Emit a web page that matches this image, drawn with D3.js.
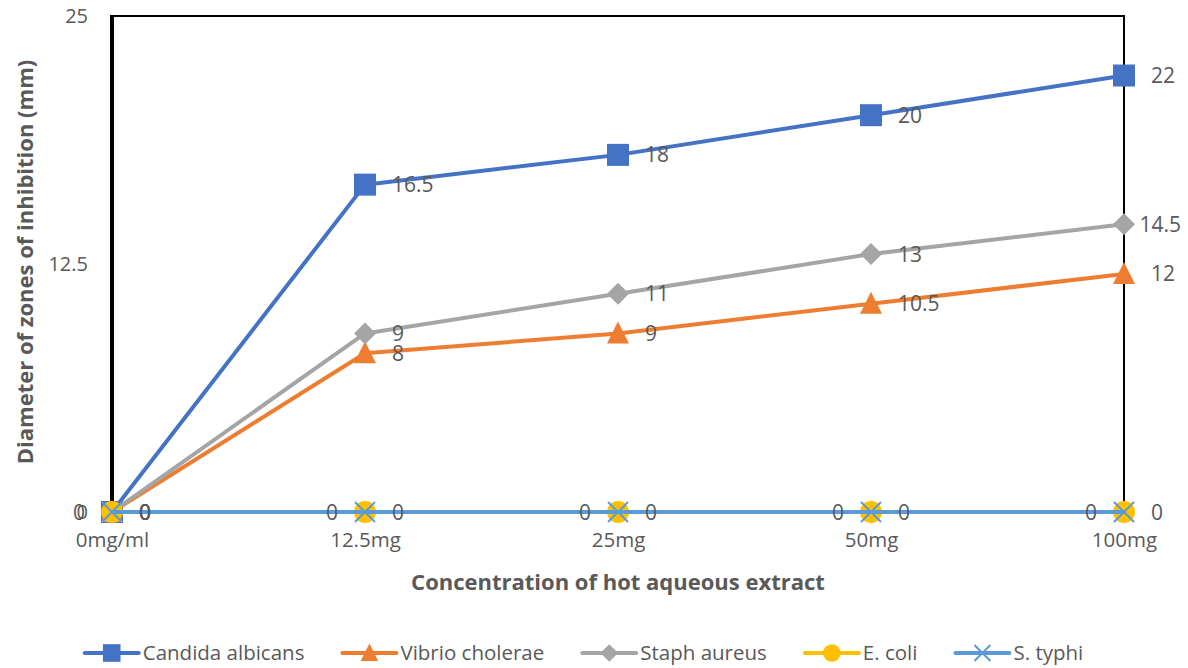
<!DOCTYPE html>
<html>
<head>
<meta charset="utf-8">
<script src="https://cdn.jsdelivr.net/npm/d3@7"></script>
<style>
  html, body { margin: 0; padding: 0; background: #fff; }
  svg { display: block; font-family: "Open Sans", "Noto Sans", sans-serif; }
</style>
</head>
<body>
<svg id="chart" width="1188" height="668"></svg>
<script>
// Concentrations tested
const categories = ["0mg/ml", "12.5mg", "25mg", "50mg", "100mg"];

// Inhibition zone diameters (mm) per organism
const candida = [0, 16.5, 18, 20, 22];
const vibrio  = [0, 8, 9, 10.5, 12];
const staph   = [0, 9, 11, 13, 14.5];
const ecoli   = [0, 0, 0, 0, 0];
const styphi  = [0, 0, 0, 0, 0];

const yTicks = [0, 12.5, 25];

const series = [
  { name: "Candida albicans", values: candida, color: "#4472C4", marker: "square",   labelSide: "right" },
  { name: "Vibrio cholerae",  values: vibrio,  color: "#ED7D31", marker: "triangle", labelSide: "right" },
  { name: "Staph aureus",     values: staph,   color: "#A5A5A5", marker: "diamond",  labelSide: "right" },
  { name: "E. coli",          values: ecoli,   color: "#FFC000", marker: "circle",   labelSide: "left"  },
  { name: "S. typhi",         values: styphi,  color: "#5B9BD5", marker: "cross",    labelSide: "right" }
];

const W = 1188;
const svg = d3.select("#chart");
const plot = { left: 112, right: 1124, top: 16, bottom: 512 };
const textColor = "#595959";

const x = d3.scalePoint().domain(categories).range([plot.left, plot.right]).padding(0);
const y = d3.scaleLinear().domain([0, 25]).range([plot.bottom, plot.top]);

// Y axis labels
const yAxis = d3.axisLeft(y).tickValues(yTicks).tickSize(0).tickPadding(24)
  .tickFormat(d => String(d));
svg.append("g").attr("transform", `translate(${plot.left},0)`).call(yAxis)
  .call(g => g.select(".domain").remove())
  .selectAll("text").attr("fill", textColor).style("font-size", "20px")
  .style("font-family", "'Open Sans', sans-serif");

// X axis labels
const xAxis = d3.axisBottom(x).tickSize(0).tickPadding(20);
svg.append("g").attr("transform", `translate(0,${plot.bottom})`).call(xAxis)
  .call(g => g.select(".domain").attr("stroke", "#d9d9d9"))
  .selectAll("text").attr("fill", textColor).style("font-size", "20.5px")
  .style("font-family", "'Open Sans', sans-serif");

// Plot frame: thin top and right, heavy left
svg.append("path")
  .attr("d", `M${plot.left},${plot.top}H${plot.right}V${plot.bottom}`)
  .attr("fill", "none").attr("stroke", "#000").attr("stroke-width", 2);
svg.append("line")
  .attr("x1", plot.left).attr("x2", plot.left)
  .attr("y1", plot.top - 1).attr("y2", plot.bottom)
  .attr("stroke", "#000").attr("stroke-width", 4);

// Marker shapes
function drawMarker(g, type, color, cx, cy, scale = 1) {
  const s = scale;
  if (type === "square") {
    g.append("rect").attr("x", cx - 11 * s).attr("y", cy - 11 * s)
      .attr("width", 22 * s).attr("height", 22 * s).attr("fill", color);
  } else if (type === "triangle") {
    g.append("path")
      .attr("d", `M${cx},${cy - 12 * s}L${cx + 11 * s},${cy + 10 * s}L${cx - 11 * s},${cy + 10 * s}Z`)
      .attr("fill", color);
  } else if (type === "diamond") {
    g.append("path")
      .attr("d", `M${cx},${cy - 11 * s}L${cx + 11 * s},${cy}L${cx},${cy + 11 * s}L${cx - 11 * s},${cy}Z`)
      .attr("fill", color);
  } else if (type === "circle") {
    g.append("circle").attr("cx", cx).attr("cy", cy).attr("r", 11 * s).attr("fill", color);
  } else if (type === "cross") {
    const r = 10 * s;
    g.append("path")
      .attr("d", `M${cx - r},${cy - r}L${cx + r},${cy + r}M${cx - r},${cy + r}L${cx + r},${cy - r}`)
      .attr("stroke", color).attr("stroke-width", 2).attr("fill", "none");
  }
}

const line = d3.line().x((d, i) => x(categories[i])).y(d => y(d));

// Series lines and markers
series.forEach(s => {
  const g = svg.append("g");
  g.append("path").datum(s.values).attr("d", line)
    .attr("fill", "none").attr("stroke", s.color).attr("stroke-width", 4)
    .attr("stroke-linejoin", "round").attr("stroke-linecap", "round");
  s.values.forEach((v, i) => drawMarker(g, s.marker, s.color, x(categories[i]), y(v)));
});

// Value labels, pulled back inside the canvas when they would overflow it
series.forEach(s => {
  const g = svg.append("g");
  s.values.forEach((v, i) => {
    const right = s.labelSide === "right";
    const t = g.append("text")
      .attr("x", x(categories[i]) + (right ? 27 : -27))
      .attr("y", y(v))
      .attr("dy", "0.36em")
      .attr("text-anchor", right ? "start" : "end")
      .attr("fill", textColor)
      .style("font-size", "21px")
      .text(String(v));
    if (right) {
      const w = t.node().getComputedTextLength();
      const x0 = +t.attr("x");
      if (x0 + w > W - 7) t.attr("x", W - 7 - w);
    }
  });
});

// Axis titles
svg.append("text")
  .attr("x", 618).attr("y", 582)
  .attr("dy", "0.35em").attr("text-anchor", "middle")
  .attr("fill", textColor).style("font-size", "22px").style("font-weight", "bold")
  .text("Concentration of hot aqueous extract");

svg.append("text")
  .attr("transform", `translate(25,${(plot.top + plot.bottom) / 2 - 2}) rotate(-90)`)
  .attr("dy", "0.35em").attr("text-anchor", "middle")
  .attr("fill", textColor).style("font-size", "22px").style("font-weight", "bold")
  .text("Diameter of zones of inhibition (mm)");

// Legend
const legendY = 653;
const legend = svg.append("g");
const items = [];
series.forEach(s => {
  const it = legend.append("g");
  it.append("line").attr("x1", 2).attr("x2", 56).attr("y1", 0).attr("y2", 0)
    .attr("stroke", s.color).attr("stroke-width", 4).attr("stroke-linecap", "round");
  drawMarker(it, s.marker, s.color, 29, 0, 0.8);
  const t = it.append("text").attr("x", 60).attr("dy", "0.35em")
    .attr("fill", textColor).style("font-size", "20.5px").text(s.name);
  items.push({ g: it, w: 60 + t.node().getComputedTextLength() });
});
const gap = 36;
const total = d3.sum(items, d => d.w) + gap * (items.length - 1);
let cx = 583 - total / 2;
items.forEach(d => {
  d.g.attr("transform", `translate(${cx},${legendY})`);
  cx += d.w + gap;
});
</script>
</body>
</html>
